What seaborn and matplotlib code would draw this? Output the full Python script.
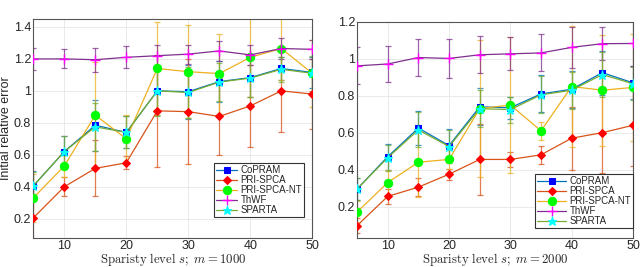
"""
Initial relative error vs sparsity level for two measurement counts.
"""

import numpy as np
import seaborn as sns
import matplotlib.pyplot as plt

sparsity = [5, 10, 15, 20, 25, 30, 35, 40, 45, 50]
methods = ["CoPRAM", "PRI-SPCA", "PRI-SPCA-NT", "ThWF", "SPARTA"]

# m = 1000: mean and std for each method
m1000_mean = {
    "CoPRAM":      [0.405, 0.62, 0.785, 0.74, 1.00, 0.995, 1.058, 1.083, 1.14, 1.115],
    "PRI-SPCA":    [0.205, 0.40, 0.515, 0.55, 0.875, 0.87, 0.84, 0.906, 1.00, 0.98],
    "PRI-SPCA-NT": [0.33, 0.53, 0.848, 0.70, 1.14, 1.12, 1.108, 1.21, 1.265, 1.11],
    "ThWF":        [1.20, 1.20, 1.195, 1.21, 1.22, 1.23, 1.25, 1.225, 1.265, 1.26],
    "SPARTA":      [0.405, 0.62, 0.775, 0.74, 1.00, 0.99, 1.055, 1.08, 1.135, 1.11],
}
m1000_std = {
    "CoPRAM":      [0.095, 0.10, 0.16, 0.10, 0.15, 0.17, 0.13, 0.12, 0.07, 0.10],
    "PRI-SPCA":    [0.15, 0.06, 0.175, 0.04, 0.35, 0.33, 0.24, 0.255, 0.26, 0.22],
    "PRI-SPCA-NT": [0.15, 0.07, 0.33, 0.15, 0.29, 0.29, 0.25, 0.25, 0.20, 0.21],
    "ThWF":        [0.07, 0.06, 0.075, 0.07, 0.07, 0.06, 0.065, 0.065, 0.065, 0.06],
    "SPARTA":      [0.09, 0.10, 0.15, 0.10, 0.16, 0.16, 0.12, 0.12, 0.08, 0.11],
}

# m = 2000
m2000_mean = {
    "CoPRAM":      [0.295, 0.47, 0.625, 0.53, 0.74, 0.735, 0.81, 0.835, 0.925, 0.87],
    "PRI-SPCA":    [0.097, 0.255, 0.305, 0.375, 0.455, 0.455, 0.48, 0.57, 0.60, 0.64],
    "PRI-SPCA-NT": [0.17, 0.33, 0.44, 0.455, 0.73, 0.75, 0.61, 0.85, 0.83, 0.845],
    "ThWF":        [0.962, 0.972, 1.007, 1.002, 1.022, 1.027, 1.032, 1.062, 1.082, 1.083],
    "SPARTA":      [0.295, 0.465, 0.615, 0.525, 0.73, 0.725, 0.805, 0.83, 0.915, 0.865],
}
m2000_std = {
    "CoPRAM":      [0.06, 0.07, 0.09, 0.09, 0.10, 0.06, 0.10, 0.10, 0.12, 0.09],
    "PRI-SPCA":    [0.04, 0.04, 0.05, 0.03, 0.19, 0.04, 0.05, 0.17, 0.22, 0.22],
    "PRI-SPCA-NT": [0.06, 0.07, 0.19, 0.05, 0.37, 0.37, 0.05, 0.33, 0.30, 0.29],
    "ThWF":        [0.10, 0.10, 0.10, 0.105, 0.10, 0.09, 0.10, 0.11, 0.09, 0.12],
    "SPARTA":      [0.06, 0.07, 0.095, 0.09, 0.10, 0.07, 0.10, 0.10, 0.12, 0.09],
}

line_colors = {
    "CoPRAM": (0.0, 0.447, 0.741),
    "PRI-SPCA": (0.85, 0.325, 0.098),
    "PRI-SPCA-NT": (0.929, 0.694, 0.125),
    "ThWF": (0.494, 0.184, 0.556),
    "SPARTA": (0.466, 0.674, 0.188),
}
marker_style = {
    "CoPRAM": ("s", "#0000ff", 4.5),
    "PRI-SPCA": ("D", "#ff0000", 4.5),
    "PRI-SPCA-NT": ("o", "#00ff00", 6),
    "ThWF": ("+", "#ff00ff", 7),
    "SPARTA": ("*", "#00ffff", 6.5),
}

sns.set_theme(style="whitegrid")
plt.rcParams["font.family"] = ["Liberation Sans", "DejaVu Sans"]
plt.rcParams["mathtext.fontset"] = "cm"

fig = plt.figure(figsize=(6.4, 2.67), dpi=100)
ax1 = fig.add_axes([0.052, 0.109, 0.436, 0.82])
ax2 = fig.add_axes([0.558, 0.109, 0.431, 0.809])


def draw_panel(ax, means, stds, m, ylim, yticks, ytl, leg_anchor, hlen):
    for name in methods:
        col = line_colors[name]
        mk, mcol, ms = marker_style[name]
        ax.errorbar(sparsity, means[name], yerr=stds[name], fmt="none",
                    ecolor=col, elinewidth=0.9, capsize=2.5, capthick=0.9,
                    alpha=0.75, zorder=2)
        kw = dict(markerfacecolor=mcol, markeredgecolor=mcol)
        if mk == "+":
            kw["markeredgewidth"] = 1.0
        sns.lineplot(x=sparsity, y=means[name], ax=ax, color=col, lw=0.9,
                     marker=mk, markersize=ms, label=name, zorder=3, **kw)
    ax.set_xlim(5, 50)
    ax.set_ylim(*ylim)
    ax.set_xticks([10, 20, 30, 40, 50])
    ax.set_yticks(yticks)
    ax.set_yticklabels(ytl)
    ax.tick_params(labelsize=9, colors="#262626", length=0, pad=1.5)
    ax.grid(True, color="#e6e6e6", lw=0.6)
    for s in ax.spines.values():
        s.set_color("#555555")
        s.set_linewidth(0.8)
    ax.set_xlabel(r"$\mathrm{Sparisty\ level}\ s;\ m = %d$" % m, fontsize=9.2,
                  labelpad=-0.5)
    leg = ax.legend(loc="lower right", bbox_to_anchor=leg_anchor,
                    borderaxespad=0, fontsize=7, frameon=True, fancybox=False,
                    handlelength=hlen, handletextpad=0.3, labelspacing=0.0,
                    borderpad=0.2)
    leg.get_frame().set_edgecolor("#333333")
    leg.get_frame().set_linewidth(0.8)
    leg.get_frame().set_alpha(1)


draw_panel(ax1, m1000_mean, m1000_std, 1000, (0.08, 1.45),
           [0.2, 0.4, 0.6, 0.8, 1.0, 1.2, 1.4],
           ["0.2", "0.4", "0.6", "0.8", "1", "1.2", "1.4"], (0.97, 0.095), 2.2)
ax1.set_ylabel("Initial relative error", fontsize=9, labelpad=1)

draw_panel(ax2, m2000_mean, m2000_std, 2000, (0.03, 1.2),
           [0.2, 0.4, 0.6, 0.8, 1.0, 1.2],
           ["0.2", "0.4", "0.6", "0.8", "1", "1.2"], (1.0, 0.045), 3.0)

fig.savefig("out.png", dpi=100)
